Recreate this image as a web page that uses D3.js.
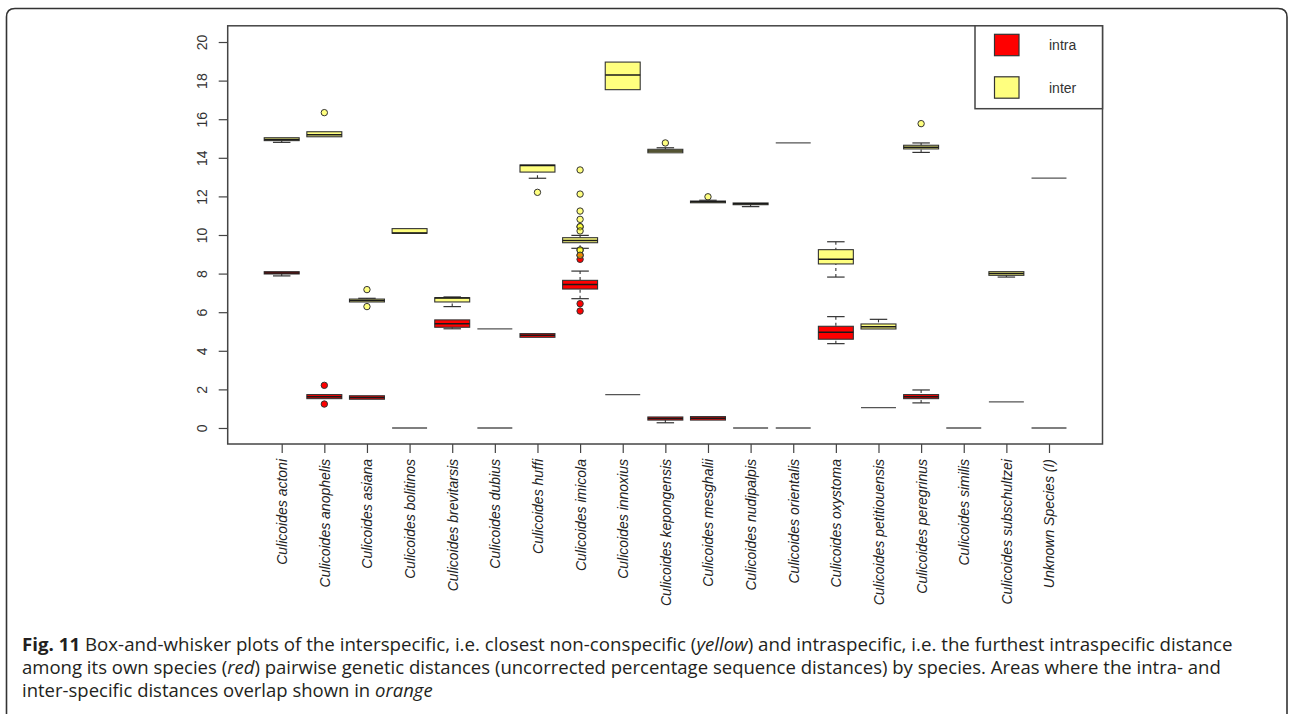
<!DOCTYPE html>
<html>
<head>
<meta charset="utf-8">
<script src="https://cdn.jsdelivr.net/npm/d3@7"></script>
<style>
  html, body { margin: 0; padding: 0; background: #fff; }
  svg { display: block; }
  text { font-family: "Liberation Sans", Arial, sans-serif; }
</style>
</head>
<body>
<svg id="chart" width="1289" height="714"></svg>
<script>
// ---------- DATA ----------
const species = [
  "Culicoides actoni", "Culicoides anophelis", "Culicoides asiana", "Culicoides bolitinos",
  "Culicoides brevitarsis", "Culicoides dubius", "Culicoides huffi", "Culicoides imicola",
  "Culicoides innoxius", "Culicoides kepongensis", "Culicoides mesghalii", "Culicoides nudipalpis",
  "Culicoides orientalis", "Culicoides oxystoma", "Culicoides petitiouensis", "Culicoides peregrinus",
  "Culicoides similis", "Culicoides subschultzei", "Unknown Species (I)"
];

// [lower whisker, Q1, median, Q3, upper whisker]
const intraStats = [
  [7.88, 7.98, 8.03, 8.10, 8.10],
  [1.52, 1.52, 1.62, 1.73, 1.73],
  [1.49, 1.49, 1.58, 1.67, 1.67],
  [0, 0, 0, 0, 0],
  [5.14, 5.22, 5.40, 5.60, 5.60],
  [0, 0, 0, 0, 0],
  [4.70, 4.70, 4.80, 4.89, 4.89],
  [6.70, 7.20, 7.43, 7.65, 8.13],
  [1.73, 1.73, 1.73, 1.73, 1.73],
  [0.27, 0.41, 0.49, 0.57, 0.57],
  [0.41, 0.41, 0.50, 0.59, 0.59],
  [0, 0, 0, 0, 0],
  [0, 0, 0, 0, 0],
  [4.37, 4.60, 4.96, 5.27, 5.77],
  [1.05, 1.05, 1.05, 1.05, 1.05],
  [1.30, 1.52, 1.62, 1.73, 1.97],
  [0, 0, 0, 0, 0],
  [1.35, 1.35, 1.35, 1.35, 1.35],
  [0, 0, 0, 0, 0]
];
const intraOutliers = [
  [], [2.21, 1.24], [], [], [], [], [], [8.95, 8.74, 6.44, 6.06], [], [], [], [], [], [], [], [], [], [], []
];

const interStats = [
  [14.80, 14.89, 14.95, 15.04, 15.04],
  [15.09, 15.09, 15.20, 15.35, 15.35],
  [6.53, 6.53, 6.60, 6.68, 6.72],
  [10.09, 10.09, 10.10, 10.33, 10.33],
  [6.29, 6.53, 6.74, 6.75, 6.79],
  [5.14, 5.14, 5.14, 5.14, 5.14],
  [12.94, 13.26, 13.60, 13.63, 13.63],
  [9.31, 9.60, 9.72, 9.86, 9.98],
  [17.53, 17.53, 18.29, 18.96, 18.96],
  [14.26, 14.26, 14.35, 14.44, 14.52],
  [11.67, 11.67, 11.72, 11.76, 11.80],
  [11.47, 11.57, 11.62, 11.66, 11.66],
  [14.77, 14.77, 14.77, 14.77, 14.77],
  [7.82, 8.50, 8.74, 9.24, 9.65],
  [5.13, 5.13, 5.25, 5.39, 5.63],
  [14.28, 14.46, 14.55, 14.65, 14.77],
  null,
  [7.82, 7.91, 8.00, 8.10, 8.10],
  [12.95, 12.95, 12.95, 12.95, 12.95]
];
const interOutliers = [
  [], [16.34], [7.17, 6.29], [], [], [], [12.21],
  [13.37, 12.12, 11.24, 10.81, 10.43, 10.43, 10.21, 9.22, 9.22, 8.95],
  [], [14.77], [11.98], [], [], [], [], [15.77], [], [], []
];

const yTicks = [0, 2, 4, 6, 8, 10, 12, 14, 16, 18, 20];
const legendLabels = ["intra", "inter"];

const captionLines = [
  [{t: "Fig. 11", b: true}, {t: " Box-and-whisker plots of the interspecific, i.e. closest non-conspecific ("}, {t: "yellow", i: true}, {t: ") and intraspecific, i.e. the furthest intraspecific distance"}],
  [{t: "among its own species ("}, {t: "red", i: true}, {t: ") pairwise genetic distances (uncorrected percentage sequence distances) by species. Areas where the intra- and"}],
  [{t: "inter-specific distances overlap shown in "}, {t: "orange", i: true}]
];

// ---------- LAYOUT ----------
const plot = {left: 227.7, right: 1102.5, top: 25.8, bottom: 444};
const svg = d3.select("#chart");

const x = d3.scalePoint().domain(species).range([281.7, 1049]);
const y = d3.scaleLinear().domain([-0.83, 20.84]).range([plot.bottom, plot.top]);
const boxW = x.step() * 0.82;
const ink = "#333";

// frame of the figure panel
svg.append("path")
  .attr("d", "M6.5,716 V17 Q6.5,8.5 15,8.5 H1278 Q1287,8.5 1287,17 V716")
  .attr("fill", "none").attr("stroke", "#333").attr("stroke-width", 1.6);

// axes
const yAxis = svg.append("g").attr("transform", `translate(${plot.left},0)`)
  .call(d3.axisLeft(y).tickValues(yTicks).tickSize(9).tickSizeOuter(0).tickFormat(d3.format("d")));
yAxis.select(".domain").remove();
yAxis.selectAll(".tick line").attr("stroke", "#444").attr("stroke-width", 1.2);
yAxis.selectAll(".tick text")
  .attr("x", null).attr("dy", null)
  .attr("transform", "translate(-21,0) rotate(-90)")
  .attr("text-anchor", "middle")
  .attr("font-size", 14).attr("fill", "#333");

const xAxis = svg.append("g").attr("transform", `translate(0,${plot.bottom})`)
  .call(d3.axisBottom(x).tickSize(9).tickSizeOuter(0));
xAxis.select(".domain").remove();
xAxis.selectAll(".tick line").attr("stroke", "#444").attr("stroke-width", 1.2);
xAxis.selectAll(".tick text")
  .attr("y", null).attr("dy", "0.35em")
  .attr("transform", "translate(0,15) rotate(-90)")
  .attr("text-anchor", "end")
  .attr("font-size", 14).attr("font-style", "italic").attr("fill", "#222");

// box drawing
function drawBoxes(stats, outliers, fill, fillOpacity, cls) {
  const g = svg.append("g").attr("class", cls);
  stats.forEach((s, i) => {
    if (!s) return;
    const cx = x(species[i]);
    const [lo, q1, med, q3, hi] = s;
    const bg = g.append("g");
    if (lo === hi) {
      bg.append("line")
        .attr("x1", cx - boxW / 2).attr("x2", cx + boxW / 2)
        .attr("y1", y(med)).attr("y2", y(med))
        .attr("stroke", "#555").attr("stroke-width", 1.3);
      return;
    }
    // whiskers
    [[lo, q1], [hi, q3]].forEach(([w, q]) => {
      if (w === q) return;
      bg.append("line").attr("x1", cx).attr("x2", cx).attr("y1", y(w)).attr("y2", y(q))
        .attr("stroke", ink).attr("stroke-width", 1.1).attr("stroke-dasharray", "3,3");
      bg.append("line").attr("x1", cx - boxW / 4).attr("x2", cx + boxW / 4)
        .attr("y1", y(w)).attr("y2", y(w))
        .attr("stroke", ink).attr("stroke-width", 1.2);
    });
    bg.append("rect")
      .attr("x", cx - boxW / 2).attr("width", boxW)
      .attr("y", y(q3)).attr("height", Math.max(0.5, y(q1) - y(q3)))
      .attr("fill", fill).attr("fill-opacity", fillOpacity)
      .attr("stroke", ink).attr("stroke-width", 1.1);
    bg.append("line")
      .attr("x1", cx - boxW / 2).attr("x2", cx + boxW / 2)
      .attr("y1", y(med)).attr("y2", y(med))
      .attr("stroke", "#1a1a1a").attr("stroke-width", 1.5);
  });
  outliers.forEach((arr, i) => {
    arr.forEach(v => {
      g.append("circle").attr("cx", x(species[i])).attr("cy", y(v)).attr("r", 3.2)
        .attr("fill", fill).attr("fill-opacity", fillOpacity)
        .attr("stroke", ink).attr("stroke-width", 1);
    });
  });
}

drawBoxes(intraStats, intraOutliers, "#FF0000", 1, "intra");
drawBoxes(interStats, interOutliers, "#FFFF00", 0.5, "inter");

// plot frame
svg.append("rect")
  .attr("x", plot.left).attr("y", plot.top)
  .attr("width", plot.right - plot.left).attr("height", plot.bottom - plot.top)
  .attr("fill", "none").attr("stroke", "#444").attr("stroke-width", 1.5);

// legend
const leg = svg.append("g");
leg.append("rect").attr("x", 975).attr("y", plot.top).attr("width", plot.right - 975).attr("height", 108.7 - plot.top)
  .attr("fill", "#fff").attr("stroke", "#444").attr("stroke-width", 1.5);
const legFills = [["#FF0000", 1], ["#FFFF00", 0.5]];
legendLabels.forEach((lab, k) => {
  const cy = k === 0 ? 45 : 87.5;
  leg.append("rect").attr("x", 994.5).attr("y", cy - 10.7).attr("width", 24.5).attr("height", 21.4)
    .attr("fill", legFills[k][0]).attr("fill-opacity", legFills[k][1])
    .attr("stroke", ink).attr("stroke-width", 1.2);
  leg.append("text").attr("x", 1049).attr("y", cy + 5).attr("font-size", 14).attr("fill", "#333").text(lab);
});

// caption
const capBase = [651, 674, 696.5];
const capRight = [1233, 1222, 433];
captionLines.forEach((parts, li) => {
  const t = svg.append("text")
    .attr("x", 0).attr("y", 0)
    .style("font-family", "'Open Sans', 'Noto Sans', sans-serif")
    .attr("font-size", 17.5).attr("fill", "#231f20");
  parts.forEach(p => {
    const ts = t.append("tspan").text(p.t);
    if (p.b) ts.attr("font-weight", "bold");
    if (p.i) ts.attr("font-style", "italic");
  });
  const w = t.node().getComputedTextLength();
  const sx = (capRight[li] - 22) / w;
  t.attr("transform", `translate(22,${capBase[li]}) scale(${sx},1)`);
});
</script>
</body>
</html>
